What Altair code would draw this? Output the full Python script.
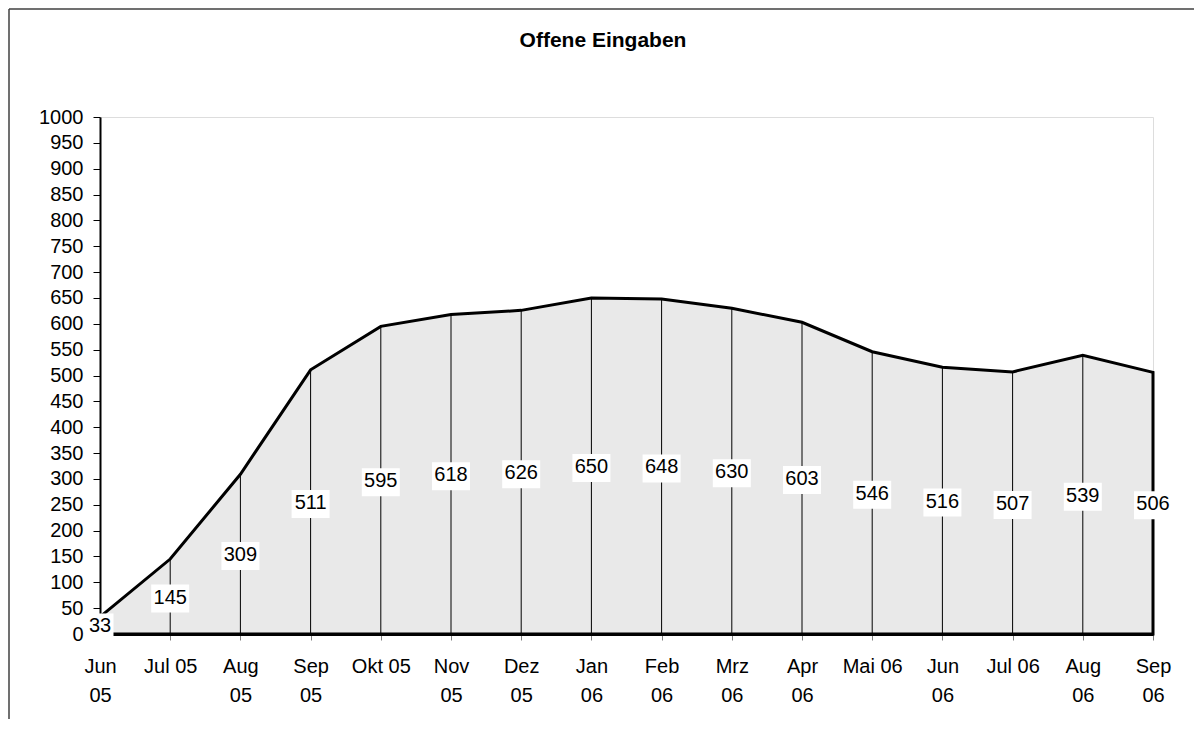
import altair as alt
import pandas as pd

title_text = "Offene Eingaben"
months = ["Jun 05", "Jul 05", "Aug 05", "Sep 05", "Okt 05", "Nov 05", "Dez 05", "Jan 06",
          "Feb 06", "Mrz 06", "Apr 06", "Mai 06", "Jun 06", "Jul 06", "Aug 06", "Sep 06"]
values = [33, 145, 309, 511, 595, 618, 626, 650, 648, 630, 603, 546, 516, 507, 539, 506]
single_line_labels = ["Jul 05", "Okt 05", "Mai 06", "Jul 06"]
y_ticks = [0, 50, 100, 150, 200, 250, 300, 350, 400, 450, 500,
           550, 600, 650, 700, 750, 800, 850, 900, 950, 1000]

FONT = "Liberation Sans"
FS = 20

df = pd.DataFrame({"Monat": months, "Wert": values})
df["Mitte"] = df["Wert"] / 2

single_expr = " || ".join(f"datum.value == '{s}'" for s in single_line_labels)

x_axis = alt.Axis(title=None, labelAngle=0, labelFont=FONT, labelFontSize=FS,
                  labelColor="black", labelPadding=16, labelLineHeight=29,
                  labelExpr=f"({single_expr}) ? datum.value : split(datum.value, ' ')",
                  tickColor="#808080", tickSize=6, tickWidth=1,
                  domainColor="black", domainWidth=3, zindex=0)
y_axis = alt.Axis(title=None, values=y_ticks, format="d", grid=False, labelFont=FONT,
                  labelFontSize=FS, labelColor="black", labelPadding=10,
                  tickColor="black", tickSize=7, tickWidth=1,
                  domainColor="black", domainWidth=2, zindex=0)
x_scale = alt.Scale(type="point", padding=0)
y_scale = alt.Scale(domain=[0, 1000], nice=False, zero=True)


def X():
    return alt.X("Monat:O", sort=months, scale=x_scale, axis=x_axis)


def Y(field):
    return alt.Y(f"{field}:Q", scale=y_scale, axis=y_axis)


base = alt.Chart(df)

area = base.mark_area(fill="#e9e9e9", stroke="black", strokeWidth=3).encode(
    x=X(), y=Y("Wert"))

drops = base.mark_rule(color="black", strokeWidth=1).encode(
    x=X(), y=Y("Wert"), y2=alt.datum(0))

box3 = base.transform_filter("datum.Wert >= 100").mark_rect(
    fill="white", width=38, height=28, yOffset=2).encode(x=X(), y=Y("Mitte"))
box2 = base.transform_filter("datum.Wert < 100").mark_rect(
    fill="white", width=27, height=28, yOffset=2).encode(x=X(), y=Y("Mitte"))

labels = base.mark_text(font=FONT, fontSize=FS, color="black", baseline="middle",
                        align="center", dy=1).encode(
    x=X(), y=Y("Mitte"), text=alt.Text("Wert:Q"))

title = alt.Chart(pd.DataFrame({"t": [title_text]})).mark_text(
    font=FONT, fontSize=21, fontWeight="bold", color="black",
    align="center", baseline="alphabetic").encode(
    x=alt.value(503), y=alt.value(-70), text="t:N")

one = pd.DataFrame({"t": [0]})
frame_left = alt.Chart(one).mark_rule(color="#404040", strokeWidth=1.5).encode(
    x=alt.value(-91), y=alt.value(-108), y2=alt.value(602))
frame_top = alt.Chart(one).mark_rule(color="#404040", strokeWidth=1.5).encode(
    x=alt.value(-91), x2=alt.value(1094), y=alt.value(-108))

chart = alt.layer(frame_left, frame_top, area, drops, box3, box2, labels, title).properties(
    width=1053, height=517,
    padding={"left": 92, "top": 109, "right": 41, "bottom": 85},
    autosize=alt.AutoSizeParams(type="none"),
).configure_view(stroke="#808080", strokeWidth=2).configure(background="white")

chart.save("out.html", embed_options={"renderer": "svg", "actions": False})
